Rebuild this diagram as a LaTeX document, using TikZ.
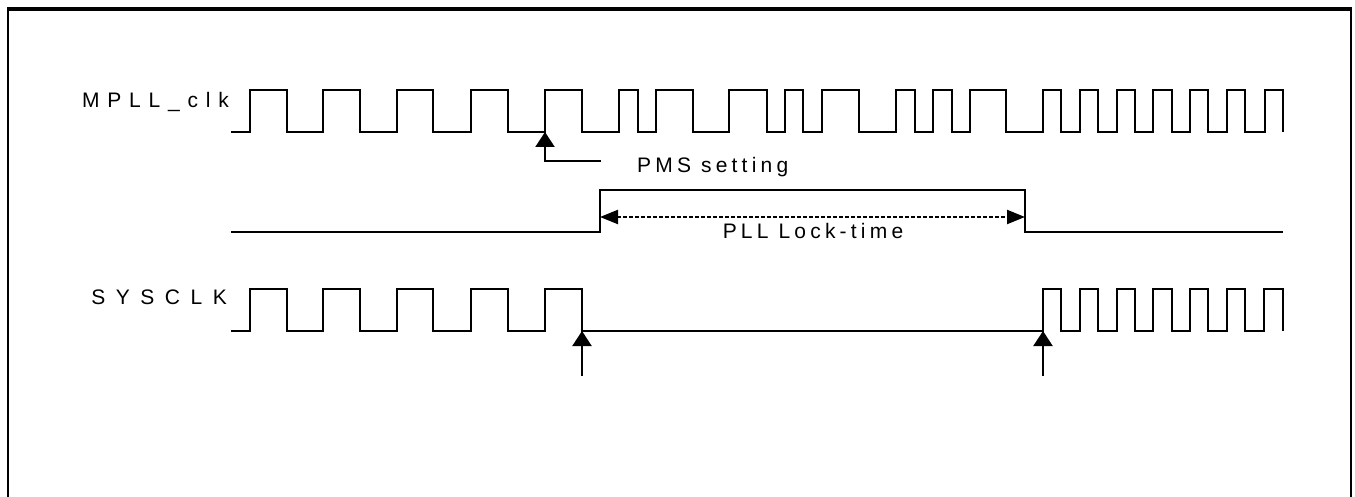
\documentclass[tikz,border=0pt]{standalone}
\usepackage{fontspec}
\setmainfont{Liberation Sans}
\usetikzlibrary{arrows.meta}
\tikzset{
  wave/.style={line width=2.2pt, line join=miter},
  lblA/.style={font=\fontsize{21}{21}\selectfont\addfontfeature{LetterSpace=37}, inner sep=0pt},
  lblB/.style={font=\fontsize{21}{21}\selectfont\addfontfeature{LetterSpace=50}, inner sep=0pt},
  note/.style={font=\fontsize{21}{21}\selectfont\addfontfeature{LetterSpace=20}, inner sep=0pt},
  uparrow/.style={line width=2.2pt, -{Triangle[length=15pt,width=19pt]}},
  lockarrow/.style={line width=2.2pt, dash pattern=on 4pt off 2pt, {Triangle[length=18pt,width=14pt]}-{Triangle[length=18pt,width=14pt]}}
}
\begin{document}
\begin{tikzpicture}[x=1pt,y=-1pt]
\useasboundingbox (0,0) rectangle (1355,497);
% frame
\draw[line width=2.5pt] (8,9) rectangle (1351,520);
\draw[line width=3.5pt] (7,9) -- (1352,9);
% labels
\node[lblA, anchor=base east] (lmpll) at (229,108) {MPLL\_clk};
\node[lblB, anchor=base east] (lsys) at (227,305) {SYSCLK};
% MPLL_clk waveform
\draw[wave] (231,132) -| (250,90) -| (287,132) -| (323,90) -| (360,132) -| (397,90) -| (433,132) -| (471,90) -| (508,132) -| (545,90) -| (582,132) -| (619,90) -| (638,132) -| (656,90) -| (693,132) -| (729,90) -| (767,132) -| (785,90) -| (803,132) -| (822,90) -| (859,132) -| (896,90) -| (915,132) -| (933,90) -| (952,132) -| (970,90) -| (1006,132) -| (1043,90) -| (1061,132) -| (1080,90) -| (1098,132) -| (1117,90) -| (1135,132) -| (1153,90) -| (1172,132) -| (1190,90) -| (1208,132) -| (1227,90) -| (1245,132) -| (1265,90) -| (1283,132);
% PMS setting
\coordinate (pmstip) at (545,132);
\coordinate (pmscorner) at (545,161);
\coordinate (pmsend) at (601,161);
\draw[uparrow] (pmsend) -- (pmscorner) -- (pmstip);
\node[note, anchor=base west] (pms) at (637,173) {PMS setting};
% lock signal
\coordinate (lockup) at (600,217);
\coordinate (lockdown) at (1025,217);
\draw[wave] (231,232) -| (600,190) -| (1025,232) -- (1283,232);
\draw[lockarrow] (lockup) -- (lockdown);
\node[note, anchor=base] (lock) at (813,239) {PLL Lock-time};
% SYSCLK waveform
\draw[wave] (231,331) -| (250,289) -| (287,331) -| (323,289) -| (360,331) -| (397,289) -| (433,331) -| (471,289) -| (508,331) -| (545,289) -| (582,331) -| (1043,289) -| (1061,331) -| (1080,289) -| (1098,331) -| (1117,289) -| (1135,331) -| (1153,289) -| (1172,331) -| (1190,289) -| (1208,331) -| (1227,289) -| (1245,331) -| (1264,289) -| (1283,331);
% SYSCLK arrows
\coordinate (a1tail) at (582,376);
\coordinate (a1tip) at (582,331);
\coordinate (a2tail) at (1043,376);
\coordinate (a2tip) at (1043,331);
\draw[uparrow] (a1tail) -- (a1tip);
\draw[uparrow] (a2tail) -- (a2tip);
\end{tikzpicture}
\end{document}
